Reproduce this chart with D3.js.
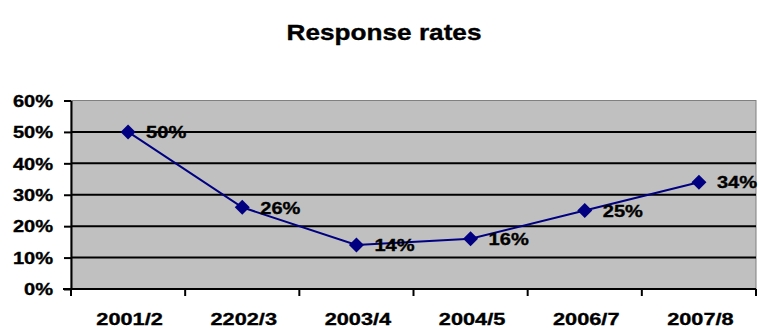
<!DOCTYPE html>
<html>
<head>
<meta charset="utf-8">
<script src="https://cdn.jsdelivr.net/npm/d3@7"></script>
<style>
  html, body { margin: 0; padding: 0; background: #fff; }
  svg { display: block; }
  text { font-family: "Liberation Sans", Arial, sans-serif; font-weight: bold; fill: #000; stroke: #000; stroke-width: 0.35px; }
</style>
</head>
<body>
<svg id="chart" width="759" height="329"></svg>
<script>
// Survey response rates by year
const categories = ["2001/2", "2202/3", "2003/4", "2004/5", "2006/7", "2007/8"];
const rates = [50, 26, 14, 16, 25, 34];
const yTicks = [0, 10, 20, 30, 40, 50, 60];
const title = "Response rates";

const svg = d3.select("#chart");
const plot = { left: 71, right: 756, top: 100.5, bottom: 289 };
const sx = 1.18; // horizontal stretch of the lettering

const x = d3.scaleBand().domain(categories).range([plot.left, plot.right]).padding(0);
const y = d3.scaleLinear().domain([0, 60]).range([plot.bottom, plot.top]);

// Plot area background
svg.append("rect")
  .attr("x", plot.left).attr("y", plot.top)
  .attr("width", plot.right - plot.left).attr("height", plot.bottom - plot.top)
  .attr("fill", "#c0c0c0")
  .attr("stroke", "#808080").attr("stroke-width", 1);

// Horizontal gridlines
svg.append("g").selectAll("line")
  .data(yTicks.filter(d => d > 0 && d < 60))
  .join("line")
  .attr("x1", plot.left).attr("x2", plot.right)
  .attr("y1", d => y(d)).attr("y2", d => y(d))
  .attr("stroke", "#000").attr("stroke-width", 2);

// Y axis
const yAxis = svg.append("g")
  .attr("transform", `translate(${plot.left},0)`)
  .call(d3.axisLeft(y).tickValues(yTicks).tickSize(7).tickSizeOuter(0).tickFormat(d => d + "%"));
yAxis.select(".domain").attr("stroke", "#000").attr("stroke-width", 2);
yAxis.selectAll(".tick line").attr("stroke", "#000").attr("stroke-width", 2);
yAxis.selectAll(".tick text").remove();

// Y labels (stretched)
svg.append("g").selectAll("text")
  .data(yTicks)
  .join("text")
  .attr("transform", d => `translate(53,${y(d) + 6.3}) scale(${sx},1)`)
  .attr("text-anchor", "end")
  .attr("font-size", 17)
  .text(d => d + "%");

// X axis line and category boundary ticks
svg.append("line")
  .attr("x1", plot.left - 8).attr("x2", plot.right)
  .attr("y1", plot.bottom).attr("y2", plot.bottom)
  .attr("stroke", "#000").attr("stroke-width", 2);
const bounds = categories.map(c => x(c)).concat([plot.right]);
svg.append("g").selectAll("line")
  .data(bounds)
  .join("line")
  .attr("x1", d => d).attr("x2", d => d)
  .attr("y1", plot.bottom).attr("y2", plot.bottom + 7)
  .attr("stroke", "#000").attr("stroke-width", 2);

// X labels
svg.append("g").selectAll("text")
  .data(categories)
  .join("text")
  .attr("transform", d => `translate(${x(d) + x.bandwidth() / 2 + 1.5},325) scale(1.28,1)`)
  .attr("text-anchor", "middle")
  .attr("font-size", 17)
  .text(d => d);

// Line
const cx = d => x(d) + x.bandwidth() / 2;
const line = d3.line().x((d, i) => cx(categories[i])).y(d => y(d));
svg.append("path")
  .datum(rates)
  .attr("d", line)
  .attr("fill", "none")
  .attr("stroke", "#000080")
  .attr("stroke-width", 2);

// Diamond markers
svg.append("g").selectAll("path")
  .data(rates)
  .join("path")
  .attr("transform", (d, i) => `translate(${cx(categories[i])},${y(d)})`)
  .attr("d", "M0,-7.5L7.5,0L0,7.5L-7.5,0Z")
  .attr("fill", "#000080");

// Value labels
svg.append("g").selectAll("text")
  .data(rates)
  .join("text")
  .attr("transform", (d, i) => `translate(${cx(categories[i]) + 18},${y(d) + 6.3}) scale(${sx},1)`)
  .attr("font-size", 17)
  .text(d => d + "%");

// Title
svg.append("text")
  .attr("transform", `translate(384,39.5) scale(1.19,1)`)
  .attr("text-anchor", "middle")
  .attr("font-size", 22)
  .text(title);
</script>
</body>
</html>
